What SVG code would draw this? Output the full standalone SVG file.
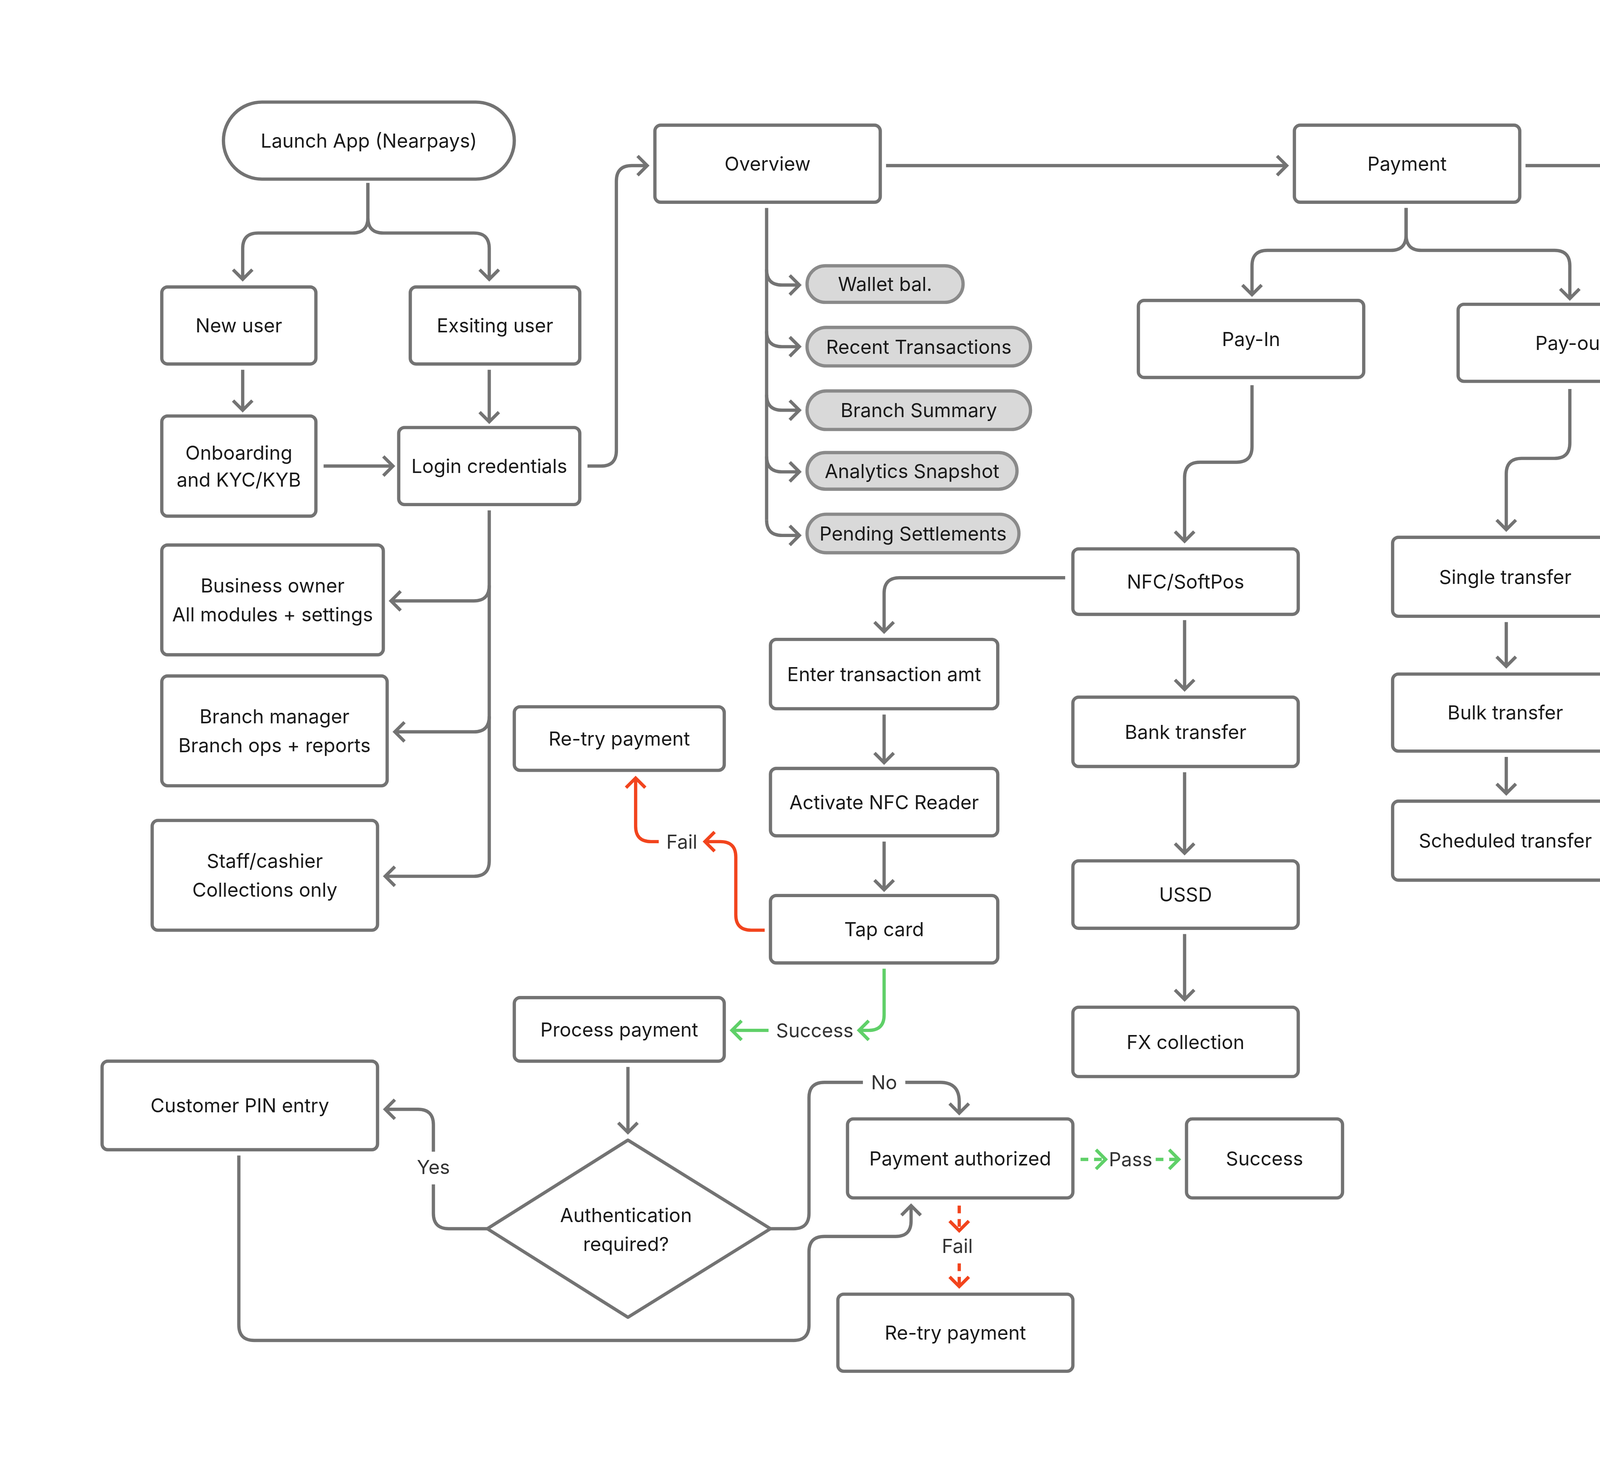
<svg xmlns="http://www.w3.org/2000/svg" width="7732" height="3774" viewBox="0 0 7732 3774">
<style>
.n rect,.n polygon{fill:#fff;stroke:#737373;stroke-width:1.7}
.p rect{fill:#d9d9d9;stroke:#8a8a8a;stroke-width:1.7}
text{font-family:Inter,"Liberation Sans",sans-serif;font-size:10px;fill:#1a1a1a;text-anchor:middle;dominant-baseline:central}
.c path{fill:none;stroke:#737373;stroke-width:1.7;marker-end:url(#ag)}
.c path.nm{marker-end:none}
.c path.r{stroke:#f2441d;marker-end:url(#ar)}
.c path.g{stroke:#5fd068;marker-end:url(#agr)}
.c path.d{stroke-dasharray:4 3}
.c text{fill:#333}
</style>
<defs>
<marker id="ag" markerUnits="userSpaceOnUse" viewBox="-7 -7 14 14" markerWidth="14" markerHeight="14" orient="auto" overflow="visible"><path d="M-5,-5 L0,0 L-5,5" fill="none" stroke="#737373" stroke-width="1.7"/></marker>
<marker id="ar" markerUnits="userSpaceOnUse" viewBox="-7 -7 14 14" markerWidth="14" markerHeight="14" orient="auto" overflow="visible"><path d="M-5,-5 L0,0 L-5,5" fill="none" stroke="#f2441d" stroke-width="1.7"/></marker>
<marker id="agr" markerUnits="userSpaceOnUse" viewBox="-7 -7 14 14" markerWidth="14" markerHeight="14" orient="auto" overflow="visible"><path d="M-5,-5 L0,0 L-5,5" fill="none" stroke="#5fd068" stroke-width="1.7"/></marker>
</defs>
<rect width="7732" height="3774" fill="#fff"/>
<g transform="scale(4.931)">
<g class="c" id="connectors">
<path d="M191,95 V113 Q191,121 183,121 H134 Q126,121 126,129 V145"/>
<path d="M191,95 V113 Q191,121 199,121 H246 Q254,121 254,129 V145"/>
<path d="M126,192 V213"/>
<path d="M254,192 V219"/>
<path d="M168,242 H204"/>
<path d="M305,242 H312 Q320,242 320,234 V94 Q320,86 328,86 H336"/>
<path d="M254,265 V447 Q254,455 246,455 H200"/>
<path d="M254,304 Q254,312 246,312 H203" />
<path d="M254,372 Q254,380 246,380 H205"/>
<path d="M460,86 H668"/>
<path d="M792,86 H857"/>
<path d="M983,86 H1170"/>
<path d="M1294,86 H1378"/>
<path class="nm" d="M398,108 V270"/>
<path d="M398,140 Q398,148 406,148 H415"/>
<path d="M398,172 Q398,180 406,180 H415"/>
<path d="M398,205 Q398,213 406,213 H415"/>
<path d="M398,237 Q398,245 406,245 H415"/>
<path d="M398,270 Q398,278 406,278 H415"/>
<path d="M730,108 V122 Q730,130 722,130 H658 Q650,130 650,138 V153"/>
<path d="M730,108 V122 Q730,130 738,130 H807 Q815,130 815,138 V155"/>
<path d="M650,200 V232 Q650,240 642,240 H623 Q615,240 615,248 V281"/>
<path d="M553,300 H467 Q459,300 459,308 V328"/>
<path d="M459,371 V396"/>
<path d="M459,437 V462"/>
<path class="r nm" d="M397,483 H390 Q382,483 382,475 V445 Q382,437 374,437 H366"/>
<path class="r" d="M342,437 H338 Q330,437 330,429 V404"/>
<text x="354" y="437">Fail</text>
<path class="g nm" d="M459,503 V527 Q459,535 451,535 H446"/>
<path class="g" d="M399,535 H380"/>
<text x="423" y="535">Success</text>
<path d="M326,554 V588"/>
<path class="nm" d="M253,638 H233 Q225,638 225,630 V615"/>
<path d="M225,598 V584 Q225,576 217,576 H200"/>
<text x="225" y="606">Yes</text>
<path class="nm" d="M400,638 H412 Q420,638 420,630 V570 Q420,562 428,562 H448"/>
<path d="M470,562 H488 Q498,562 498,572 V578"/>
<text x="459" y="562">No</text>
<path d="M124,600 V688 Q124,696 132,696 H412 Q420,696 420,688 V650 Q420,642 428,642 H465 Q473,642 473,634 V626"/>
<path class="g d nm" d="M561,602 H574"/>
<path class="g d" d="M600,602 H612"/>
<text x="587" y="602">Pass</text>
<path class="r d nm" d="M498,626 V639"/>
<path class="r d" d="M498,656 V668"/>
<text x="497" y="647">Fail</text>
<path d="M615,322 V358"/>
<path d="M615,401 V443"/>
<path d="M615,485 V519"/>
<path d="M815,202 V230 Q815,238 807,238 H790 Q782,238 782,246 V275"/>
<path d="M782,323 V346"/>
<path d="M782,393 V412"/>
<path class="nm" d="M920,108 V252"/>
<path d="M920,150 Q920,158 928,158 H942"/>
<path d="M920,201 Q920,209 928,209 H942"/>
<path d="M920,252 Q920,260 928,260 H946"/>
<path d="M1008,284 V301"/>
<path class="nm" d="M1008,349 V422"/>
<path d="M1008,366 Q1008,374 1016,374 H1020"/>
<path d="M1008,394 Q1008,402 1016,402 H1020"/>
<path d="M1008,422 Q1008,430 1016,430 H1020"/>
<path d="M1232,108 V125"/>
<path d="M1232,173 V229"/>
<path d="M1232,276 V310"/>
<path d="M1232,357 V395"/>
<path d="M1440,108 V134"/>
<path d="M1440,182 V210"/>
<path d="M1440,258 V282"/>
<path d="M1440,329 V354"/>
<path d="M1440,402 V430"/>
</g>
<g class="n" id="launch"><rect x="116" y="53" width="151" height="40" rx="20"/><text x="191.5" y="73">Launch App (Nearpays)</text></g>
<g class="n" id="newuser"><rect x="84" y="149" width="80" height="40" rx="3"/><text x="124" y="169">New user</text></g>
<g class="n" id="existing"><rect x="213" y="149" width="88" height="40" rx="3"/><text x="257" y="169">Exsiting user</text></g>
<g class="n" id="onboarding"><rect x="84" y="216" width="80" height="52" rx="3"/><text x="124" y="235">Onboarding</text><text x="124" y="249">and KYC/KYB</text></g>
<g class="n" id="login"><rect x="207" y="222" width="94" height="40" rx="3"/><text x="254" y="242">Login credentials</text></g>
<g class="n" id="owner"><rect x="84" y="283" width="115" height="57" rx="3"/><text x="141.5" y="304">Business owner</text><text x="141.5" y="319">All modules + settings</text></g>
<g class="n" id="bmanager"><rect x="84" y="351" width="117" height="57" rx="3"/><text x="142.5" y="372">Branch manager</text><text x="142.5" y="387">Branch ops + reports</text></g>
<g class="n" id="staff"><rect x="79" y="426" width="117" height="57" rx="3"/><text x="137.5" y="447">Staff/cashier</text><text x="137.5" y="462">Collections only</text></g>
<g class="n" id="overview"><rect x="340" y="65" width="117" height="40" rx="3"/><text x="398.5" y="85">Overview</text></g>
<g class="n" id="payment"><rect x="672" y="65" width="117" height="40" rx="3"/><text x="730.5" y="85">Payment</text></g>
<g class="n" id="branchmgmt"><rect x="861" y="65" width="119" height="40" rx="3"/><text x="920.5" y="85">Branch management</text></g>
<g class="n" id="reports"><rect x="1174" y="65" width="117" height="40" rx="3"/><text x="1232.5" y="85">Reports &amp; Analytics</text></g>
<g class="n" id="taxmgmt"><rect x="1382" y="65" width="117" height="40" rx="3"/><text x="1440.5" y="85">Tax management</text></g>
<g class="p" id="wallet"><rect x="419" y="138" width="81" height="19" rx="9.5"/><text x="459.5" y="147.5">Wallet bal.</text></g>
<g class="p" id="recent"><rect x="419" y="170" width="116" height="20" rx="10"/><text x="477" y="180">Recent Transactions</text></g>
<g class="p" id="bsummary"><rect x="419" y="203" width="116" height="20" rx="10"/><text x="477" y="213">Branch Summary</text></g>
<g class="p" id="asnap"><rect x="419" y="235" width="109" height="19" rx="9.5"/><text x="473.5" y="244.5">Analytics Snapshot</text></g>
<g class="p" id="pending"><rect x="419" y="267" width="110" height="20" rx="10"/><text x="474" y="277">Pending Settlements</text></g>
<g class="n" id="payin"><rect x="591" y="156" width="117" height="40" rx="3"/><text x="649.5" y="176">Pay-In</text></g>
<g class="n" id="payout"><rect x="757" y="158" width="117" height="40" rx="3"/><text x="815.5" y="178">Pay-out</text></g>
<g class="n" id="nfc"><rect x="557" y="285" width="117" height="34" rx="3"/><text x="615.5" y="302">NFC/SoftPos</text></g>
<g class="n" id="enteramt"><rect x="400" y="332" width="118" height="36" rx="3"/><text x="459" y="350">Enter transaction amt</text></g>
<g class="n" id="retry1"><rect x="267" y="367" width="109" height="33" rx="3"/><text x="321.5" y="383.5">Re-try payment</text></g>
<g class="n" id="activate"><rect x="400" y="399" width="118" height="35" rx="3"/><text x="459" y="416.5">Activate NFC Reader</text></g>
<g class="n" id="tapcard"><rect x="400" y="465" width="118" height="35" rx="3"/><text x="459" y="482.5">Tap card</text></g>
<g class="n" id="process"><rect x="267" y="518" width="109" height="33" rx="3"/><text x="321.5" y="534.5">Process payment</text></g>
<g class="n" id="pin"><rect x="53" y="551" width="143" height="46" rx="3"/><text x="124.5" y="574">Customer PIN entry</text></g>
<g class="n" id="auth"><polygon points="326,592 400,638 326,684 253,638" stroke-linejoin="round"/><text x="325" y="631">Authentication</text><text x="325" y="646">required?</text></g>
<g class="n" id="authorized"><rect x="440" y="581" width="117" height="41" rx="3"/><text x="498.5" y="601.5">Payment authorized</text></g>
<g class="n" id="success"><rect x="616" y="581" width="81" height="41" rx="3"/><text x="656.5" y="601.5">Success</text></g>
<g class="n" id="retry2"><rect x="435" y="672" width="122" height="40" rx="3"/><text x="496" y="692">Re-try payment</text></g>
<g class="n" id="bank"><rect x="557" y="362" width="117" height="36" rx="3"/><text x="615.5" y="380">Bank transfer</text></g>
<g class="n" id="ussd"><rect x="557" y="447" width="117" height="35" rx="3"/><text x="615.5" y="464.5">USSD</text></g>
<g class="n" id="fx"><rect x="557" y="523" width="117" height="36" rx="3"/><text x="615.5" y="541">FX collection</text></g>
<g class="n" id="single"><rect x="723" y="279" width="117" height="41" rx="3"/><text x="781.5" y="299.5">Single transfer</text></g>
<g class="n" id="bulk"><rect x="723" y="350" width="117" height="40" rx="3"/><text x="781.5" y="370">Bulk transfer</text></g>
<g class="n" id="scheduled"><rect x="723" y="416" width="117" height="41" rx="3"/><text x="781.5" y="436.5">Scheduled transfer</text></g>
<g class="n" id="addedit"><rect x="946" y="138" width="117" height="41" rx="3"/><text x="1004.5" y="158.5">Add/Edit branch</text></g>
<g class="n" id="managestaff"><rect x="946" y="189" width="153" height="41" rx="3"/><text x="1022.5" y="209.5">Manage staff and permissions</text></g>
<g class="n" id="monitoring"><rect x="950" y="240" width="117" height="41" rx="3"/><text x="1008.5" y="260.5">Branch monitoring</text></g>
<g class="n" id="selectbranch"><rect x="950" y="305" width="117" height="41" rx="3"/><text x="1008.5" y="325.5">Select branch</text></g>
<g class="p" id="viewtx"><rect x="1024" y="365" width="117" height="19" rx="9.5"/><text x="1082.5" y="374.5">View transactions</text></g>
<g class="p" id="monperf"><rect x="1024" y="393" width="117" height="19" rx="9.5"/><text x="1082.5" y="402.5">Monitor performance</text></g>
<g class="p" id="genrep"><rect x="1024" y="421" width="93" height="19" rx="9.5"/><text x="1070.5" y="430.5">Generate report</text></g>
<g class="n" id="sales"><rect x="1174" y="129" width="117" height="41" rx="3"/><text x="1232.5" y="149.5">Sales analytics</text></g>
<g class="n" id="txan"><rect x="1174" y="233" width="117" height="40" rx="3"/><text x="1232.5" y="253">Transaction Analytics</text></g>
<g class="n" id="bperf"><rect x="1174" y="314" width="117" height="40" rx="3"/><text x="1232.5" y="334">Branch Performance</text></g>
<g class="n" id="finrep"><rect x="1174" y="399" width="117" height="41" rx="3"/><text x="1232.5" y="419.5">Financial Reports</text></g>
<g class="n" id="taxdash"><rect x="1382" y="138" width="117" height="41" rx="3"/><text x="1440.5" y="158.5">Tax Dashboard</text></g>
<g class="n" id="aitax"><rect x="1382" y="214" width="117" height="41" rx="3"/><text x="1440.5" y="234.5">AI Tax Assistant</text></g>
<g class="n" id="collect"><rect x="1382" y="286" width="117" height="40" rx="3"/><text x="1440.5" y="306">Collect &amp; Analyze Data</text></g>
<g class="n" id="gentax"><rect x="1366" y="358" width="149" height="41" rx="3"/><text x="1440.5" y="378.5">Generate Tax Report</text></g>
<g class="n" id="download"><rect x="1366" y="434" width="149" height="41" rx="3"/><text x="1440.5" y="454.5">Downlaod and File</text></g>
</g>
</svg>
